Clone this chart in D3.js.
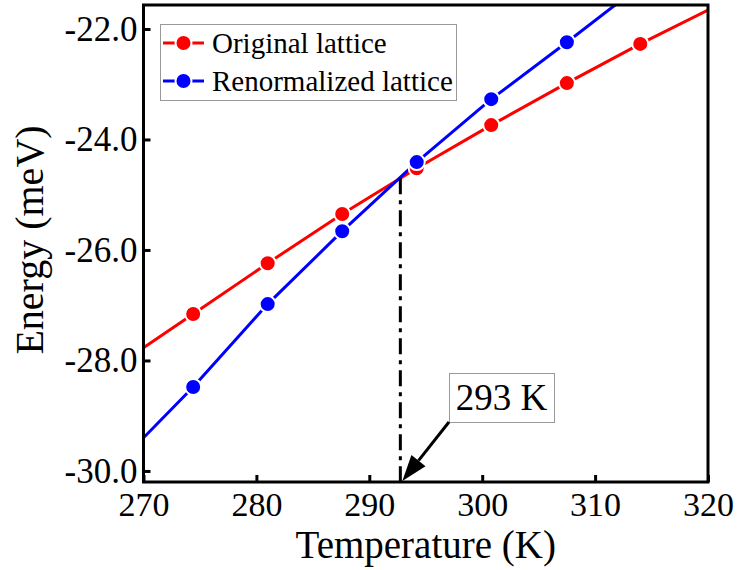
<!DOCTYPE html>
<html>
<head>
<meta charset="utf-8">
<script src="https://cdn.jsdelivr.net/npm/d3@7"></script>
<style>
  body { margin: 0; background: #fff; }
  text { font-family: "Liberation Serif", "Times New Roman", serif; }
</style>
</head>
<body>
<div id="chart"></div>
<script>
// values
var temps = [274.4, 281.0, 287.6, 294.2, 300.8, 307.5, 314.0];
var originalE = [-27.16, -26.24, -25.35, -24.52, -23.74, -22.98, -22.27];
var renormE = [-28.48, -26.98, -25.66, -24.41, -23.27, -22.24];
// line ends at the frame edges
var originalEnds = [[270, -27.77], [320, -21.66]];
var renormEnds = [[270, -29.40], [320, -20.27]];
var xTicks = [270, 280, 290, 300, 310, 320];
var yTicks = [-30, -28, -26, -24, -22];
var crossT = 292.75, crossE = -24.70;

var W = 739, H = 570;
var m = {left: 143.5, right: 31, top: 5, bottom: 88};

var svg = d3.select("#chart").append("svg").attr("width", W).attr("height", H);

var x = d3.scaleLinear().domain([270, 320]).range([m.left, W - m.right]);
var y = d3.scaleLinear().domain([-30.2, -21.566]).range([H - m.bottom, m.top]);

svg.append("defs").append("clipPath").attr("id", "clip")
  .append("rect").attr("x", m.left).attr("y", m.top)
  .attr("width", W - m.right - m.left).attr("height", H - m.bottom - m.top);

// axes, ticks inward
var xAxis = svg.append("g").attr("transform", "translate(0," + (H - m.bottom) + ")")
  .call(d3.axisBottom(x).tickValues(xTicks).tickFormat(d3.format("d")).tickSizeInner(-7).tickSizeOuter(0).tickPadding(10));
var yAxis = svg.append("g").attr("transform", "translate(" + m.left + ",0)")
  .call(d3.axisLeft(y).tickValues(yTicks).tickFormat(d3.format(".1f")).tickSizeInner(-7).tickSizeOuter(0).tickPadding(6));

[xAxis, yAxis].forEach(function(a){
  a.select(".domain").remove();
  a.selectAll("line").attr("stroke", "#000").attr("stroke-width", 3);
  a.selectAll("text").attr("fill", "#000")
    .style("font-family", "'Liberation Serif', 'Times New Roman', serif");
});
xAxis.selectAll("text").attr("font-size", 34);
yAxis.selectAll("text").attr("font-size", 35)
  .text(function(d){ return d3.format(".1f")(d).replace("\u2212", "-"); });

var plot = svg.append("g").attr("clip-path", "url(#clip)");

function series(vals, ends) {
  var pts = vals.map(function(v, i){ return [temps[i], v]; });
  return [ends[0]].concat(pts).concat([ends[1]]);
}

var line = d3.line().x(function(d){ return x(d[0]); }).y(function(d){ return y(d[1]); });

plot.append("path").datum(series(originalE, originalEnds))
  .attr("d", line).attr("fill", "none").attr("stroke", "#ff0000").attr("stroke-width", 3);
plot.append("path").datum(series(renormE, renormEnds))
  .attr("d", line).attr("fill", "none").attr("stroke", "#0000ff").attr("stroke-width", 3);

// dash-dot marker at crossing
svg.append("line")
  .attr("x1", x(crossT)).attr("x2", x(crossT))
  .attr("y1", y(crossE)).attr("y2", H - m.bottom)
  .attr("stroke", "#000").attr("stroke-width", 3)
  .attr("stroke-dasharray", "16,6,4,6");

plot.selectAll(".ro").data(originalE).enter().append("circle")
  .attr("cx", function(d, i){ return x(temps[i]); })
  .attr("cy", function(d){ return y(d); })
  .attr("r", 8).attr("fill", "#ff0000").attr("stroke", "#fff").attr("stroke-width", 2);
plot.selectAll(".bo").data(renormE).enter().append("circle")
  .attr("cx", function(d, i){ return x(temps[i]); })
  .attr("cy", function(d){ return y(d); })
  .attr("r", 8).attr("fill", "#0000ff").attr("stroke", "#fff").attr("stroke-width", 2);

// frame
svg.append("rect").attr("x", m.left).attr("y", m.top)
  .attr("width", W - m.right - m.left).attr("height", H - m.bottom - m.top)
  .attr("fill", "none").attr("stroke", "#000").attr("stroke-width", 3);

// legend
var legend = svg.append("g");
legend.append("rect").attr("x", 160.5).attr("y", 24.5).attr("width", 296).attr("height", 76)
  .attr("fill", "#fff").attr("stroke", "#999").attr("stroke-width", 1);
var items = [["Original lattice", "#ff0000"], ["Renormalized lattice", "#0000ff"]];
items.forEach(function(it, i){
  var cy = 43 + i * 38;
  legend.append("line").attr("x1", 163).attr("x2", 204).attr("y1", cy).attr("y2", cy)
    .attr("stroke", it[1]).attr("stroke-width", 3);
  legend.append("circle").attr("cx", 183.5).attr("cy", cy).attr("r", 8)
    .attr("fill", it[1]).attr("stroke", "#fff").attr("stroke-width", 2);
  legend.append("text").attr("x", 212).attr("y", cy + 10).attr("font-size", 29).text(it[0]);
});

// annotation
var tipX = x(crossT) + 2, tipY = H - m.bottom - 1;
var bx = 449, by = 373, bw = 105, bh = 49;
svg.append("rect").attr("x", bx + 0.5).attr("y", by + 0.5).attr("width", bw).attr("height", bh)
  .attr("fill", "#fff").attr("stroke", "#999").attr("stroke-width", 1);
svg.append("text").attr("x", bx + bw / 2).attr("y", by + 37).attr("text-anchor", "middle")
  .attr("font-size", 37).text("293 K");
var ang = Math.atan2(tipY - (by + bh), tipX - bx);
var headL = 26, headW = 9;
var baseX = tipX - headL * Math.cos(ang), baseY = tipY - headL * Math.sin(ang);
svg.append("line").attr("x1", bx).attr("y1", by + bh).attr("x2", baseX).attr("y2", baseY)
  .attr("stroke", "#000").attr("stroke-width", 3);
svg.append("path").attr("fill", "#000").attr("d",
  "M" + tipX + "," + tipY +
  "L" + (baseX + headW * Math.sin(ang)) + "," + (baseY - headW * Math.cos(ang)) +
  "L" + (baseX - headW * Math.sin(ang)) + "," + (baseY + headW * Math.cos(ang)) + "Z");

// axis titles
svg.append("text").attr("x", (m.left + W - m.right) / 2).attr("y", 558)
  .attr("text-anchor", "middle").attr("font-size", 39).text("Temperature (K)");
svg.append("text").attr("transform", "translate(43,240) rotate(-90)")
  .attr("text-anchor", "middle").attr("font-size", 40).text("Energy (meV)");
</script>
</body>
</html>
